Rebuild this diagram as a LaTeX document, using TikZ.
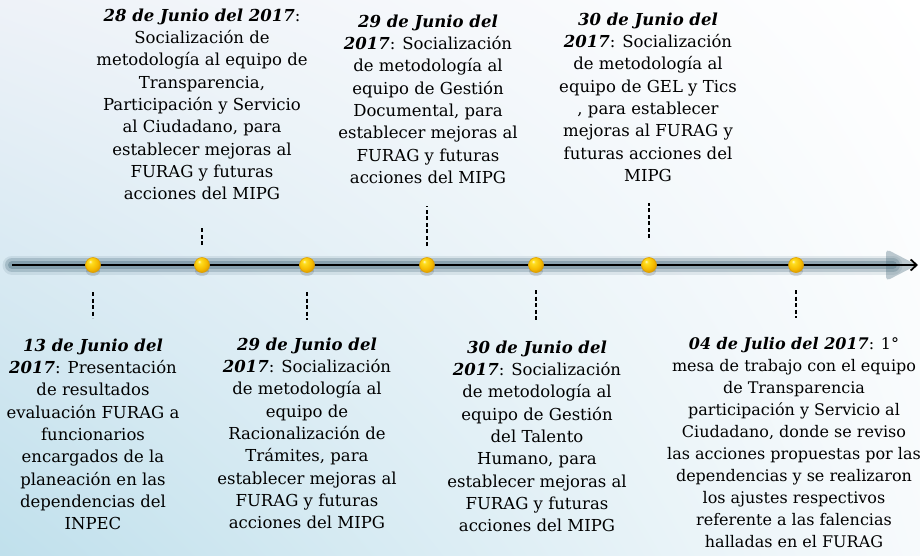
\documentclass[tikz,border=0pt]{standalone}
\usepackage{fontspec}
\setmainfont{DejaVu Serif}
\usetikzlibrary{arrows.meta,shadings}
\newcommand\fecha[1]{\textbf{\textit{#1}}}
\definecolor{bgll}{RGB}{192,224,236}
\definecolor{bgul}{RGB}{238,242,248}
\definecolor{bglr}{RGB}{247,250,252}
\definecolor{glow}{RGB}{70,104,122}
\definecolor{gA}{RGB}{255,250,205}
\definecolor{gB}{RGB}{255,222,30}
\definecolor{gC}{RGB}{245,186,0}
\definecolor{gD}{RGB}{205,138,0}
\definecolor{grim}{RGB}{222,158,0}
\pgfdeclareradialshading{goldball}{\pgfpoint{-10bp}{12bp}}{color(0bp)=(gA); color(6bp)=(gB); color(22bp)=(gC); color(36bp)=(gD); color(60bp)=(gD)}
\begin{document}
\begin{tikzpicture}[x=1pt,y=-1pt,
  txt/.style={align=center,inner sep=0pt,anchor=north,font=\fontsize{16.5}{22.3}\selectfont},
  dot/.style={circle,minimum size=15pt,inner sep=0pt,shading=goldball,draw=grim,line width=0.6pt},
  conn/.style={line width=1.6pt,dash pattern=on 4pt off 2.5pt},
  glowline/.style={line width=#1,color=glow,opacity=0.25,line cap=round}]
\useasboundingbox (0,0) rectangle (920,555);
\shade[upper left=bgul,upper right=white,lower left=bgll,lower right=bglr] (0,0) rectangle (920,555);
% timeline
\coordinate (ls) at (12,265);
\coordinate (le) at (918,265);
\coordinate (ge) at (893,265);
\draw[glowline=19pt,opacity=0.12] (ls) -- (ge);
\draw[glowline=14pt] (ls) -- (ge);
\draw[glowline=8pt,opacity=0.35] (ls) -- (ge);
\fill[glow,opacity=0.35,rounded corners=4pt] (886,249) -- (917,265) -- (886,281) -- cycle;
\draw[line width=1.8pt,-{Straight Barb[length=6pt,width=11pt]}] (ls) -- (le);
% dots
\foreach \n/\x in {d1/93,d2/202,d3/307,d4/427,d5/536,d6/649,d7/796}{
  \fill[black,opacity=0.12] (\x,271) ellipse (7pt and 5pt);
  \node[dot] (\n) at (\x,265) {};
}
% connectors
\draw[conn] ([yshift=20pt]d2.center) -- ([yshift=37pt]d2.center);
\draw[conn] ([yshift=19pt]d4.center) -- ([yshift=59pt]d4.center);
\draw[conn] ([yshift=27pt]d6.center) -- ([yshift=62pt]d6.center);
\draw[conn] ([yshift=-27pt]d1.center) -- ([yshift=-53pt]d1.center);
\draw[conn] ([yshift=-27pt]d3.center) -- ([yshift=-55pt]d3.center);
\draw[conn] ([yshift=-25pt]d5.center) -- ([yshift=-55pt]d5.center);
\draw[conn] ([yshift=-25pt]d7.center) -- ([yshift=-53pt]d7.center);
% texts
\node[txt] (ta) at (202,8.5) {\fecha{28 de Junio del 2017}:\\Socialización de\\metodología al equipo de\\Transparencia,\\Participación y Servicio\\al Ciudadano, para\\establecer mejoras al\\FURAG y futuras\\acciones del MIPG};
\node[txt] (tb) at (428,14.5) {\fecha{29 de Junio del}\\\fecha{2017}: Socialización\\de metodología al\\equipo de Gestión\\Documental, para\\establecer mejoras al\\FURAG y futuras\\acciones del MIPG};
\node[txt] (tc) at (648,12.5) {\fecha{30 de Junio del}\\\fecha{2017}: Socialización\\de metodología al\\equipo de GEL y Tics\\, para establecer\\mejoras al FURAG y\\futuras acciones del\\MIPG};
\node[txt] (td) at (93,338.5) {\fecha{13 de Junio del}\\\fecha{2017}: Presentación\\de resultados\\evaluación FURAG a\\funcionarios\\encargados de la\\planeación en las\\dependencias del\\INPEC};
\node[txt] (te) at (307,337.5) {\fecha{29 de Junio del}\\\fecha{2017}: Socialización\\de metodología al\\equipo de\\Racionalización de\\Trámites, para\\establecer mejoras al\\FURAG y futuras\\acciones del MIPG};
\node[txt] (tf) at (537,340.5) {\fecha{30 de Junio del}\\\fecha{2017}: Socialización\\de metodología al\\equipo de Gestión\\del Talento\\Humano, para\\establecer mejoras al\\FURAG y futuras\\acciones del MIPG};
\node[txt,font=\fontsize{16}{22}\selectfont] (tg) at (794,337) {\fecha{04 de Julio del 2017}: 1°\\mesa de trabajo con el equipo\\de Transparencia\\participación y Servicio al\\Ciudadano, donde se reviso\\las acciones propuestas por las\\dependencias y se realizaron\\los ajustes respectivos\\referente a las falencias\\halladas en el FURAG};
\end{tikzpicture}
\end{document}
